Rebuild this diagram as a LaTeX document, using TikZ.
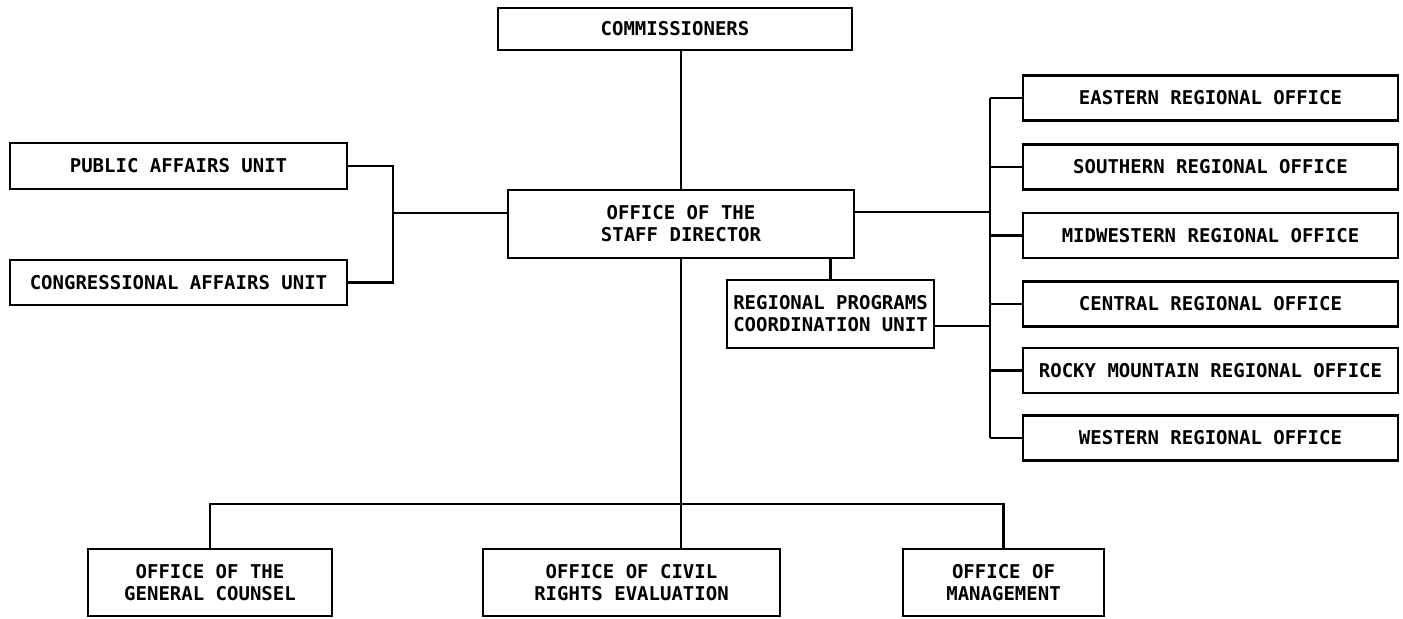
\documentclass[tikz,border=0pt]{standalone}
\usepackage{fontspec}
\setmonofont{DejaVu Sans Mono}
\usetikzlibrary{calc}
\begin{document}
\begin{tikzpicture}[x=0.5pt,y=-0.5pt,
  box/.style={draw, line width=1.4pt, inner sep=0pt, align=center,
    font=\ttfamily\bfseries\fontsize{9.5pt}{11pt}\selectfont},
  link/.style={line width=1.4pt}]
\useasboundingbox[fill=white] (0,0) rectangle (1403,618);
% top
\node[box, minimum width=177pt, minimum height=21pt] (comm) at (675,29) {COMMISSIONERS};
\node[box, minimum width=173pt, minimum height=34pt] (staff) at (681,224) {OFFICE OF THE\\STAFF DIRECTOR};
% left units
\node[box, minimum width=168.5pt, minimum height=23pt] (pa) at (178.5,166) {PUBLIC AFFAIRS UNIT};
\node[box, minimum width=168.5pt, minimum height=22.5pt] (ca) at (178.5,282.5) {CONGRESSIONAL AFFAIRS UNIT};
% regional programs
\node[box, minimum width=103.5pt, minimum height=34pt] (rpc) at (830.5,314) {REGIONAL PROGRAMS\\COORDINATION UNIT};
% regional offices
\tikzset{reg/.style={box, minimum width=187.5pt, minimum height=22.5pt}}
\node[reg] (east) at (1210.5,98) {EASTERN REGIONAL OFFICE};
\node[reg] (south) at (1210.5,167) {SOUTHERN REGIONAL OFFICE};
\node[reg] (mid) at (1210.5,235.5) {MIDWESTERN REGIONAL OFFICE};
\node[reg] (cent) at (1210.5,304) {CENTRAL REGIONAL OFFICE};
\node[reg] (rocky) at (1210.5,370.5) {ROCKY MOUNTAIN REGIONAL OFFICE};
\node[reg] (west) at (1210.5,438) {WESTERN REGIONAL OFFICE};
% bottom offices
\node[box, minimum width=122pt, minimum height=33.5pt] (gc) at (210,582.5) {OFFICE OF THE\\GENERAL COUNSEL};
\node[box, minimum width=148.5pt, minimum height=33.5pt] (cr) at (631.5,582.5) {OFFICE OF CIVIL\\RIGHTS EVALUATION};
\node[box, minimum width=100.5pt, minimum height=33.5pt] (mg) at (1003.5,582.5) {OFFICE OF\\MANAGEMENT};
% coordinates
\coordinate (lbus) at (393,213);
\coordinate (rbus) at (990,212);
\coordinate (bbus) at (682,504);
% connectors
\draw[link] (staff.north) -- (staff.north |- comm.south);
\draw[link] (pa.east) -- (pa.east -| lbus) -- (ca.east -| lbus) -- (ca.east);
\draw[link] (lbus) -- (lbus -| staff.west);
\draw[link] (rbus -| staff.east) -- (rbus);
\draw[link] (east.west -| rbus) -- (west.west -| rbus);
\foreach \n in {east,south,mid,cent,rocky,west}
  \draw[link] (\n.west -| rbus) -- (\n.west);
\draw[link] (rpc.north) -- (rpc.north |- staff.south);
\draw[link] ([yshift=-6pt]rpc.east) -- ([yshift=-6pt]rpc.east -| rbus);
\draw[link] (staff.south) -- (staff.south |- cr.north);
\draw[link] (gc.north) -- (gc.north |- bbus) -- (mg.north |- bbus) -- (mg.north);
\end{tikzpicture}
\end{document}
